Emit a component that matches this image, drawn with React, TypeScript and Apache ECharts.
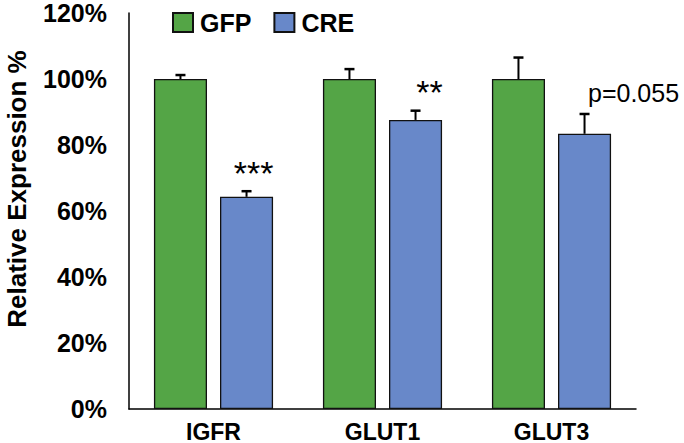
import React, { useEffect, useRef } from "react";
import * as echarts from "echarts";

const categories = ["IGFR", "GLUT1", "GLUT3"];
const gfpValues = [100, 100, 100];
const gfpErrors = [1.2, 3, 6.5];
const creValues = [64.3, 87.6, 83.4];
const creErrors = [1.7, 2.8, 6];
const annoTexts = ["***", "**", "p=0.055"];
const annoValues = [74.2, 98.8, 95.8];
const yTicks = { min: 0, max: 120, interval: 20 };
const yTitle = "Relative Expression %";

const GREEN = "#54A546";
const BLUE = "#6888C9";
const FONT = "'Liberation Sans', Arial, sans-serif";

const BAR_W = 0.314;
const GAP = 0.245;

export default function App() {
  const ref = useRef<HTMLDivElement>(null);
  useEffect(() => {
    document.body.style.margin = "0";
    if (!ref.current) return;
    const chart = echarts.init(ref.current, null, { renderer: "svg" });
    const half = (BAR_W * (1 + GAP)) / 2;
    const annoShift = [7, 14, 49];

    const errRender = (sign: number) => (params: any, api: any) => {
      const i = api.value(0);
      const v = api.value(1);
      const e = api.value(2);
      const base = api.coord([i, v]);
      const top = api.coord([i, v + e]);
      const bw = api.size([1, 0])[0];
      const x = base[0] + sign * half * bw;
      const st = { stroke: "#000", lineWidth: 2 };
      return {
        type: "group",
        children: [
          { type: "line", shape: { x1: x, y1: base[1], x2: x, y2: top[1] }, style: st },
          { type: "line", shape: { x1: x - 5, y1: top[1], x2: x + 5, y2: top[1] }, style: { stroke: "#000", lineWidth: 2.5 } },
        ],
      };
    };

    chart.setOption({
      animation: false,
      grid: { left: 129, right: 48, top: 13, bottom: 34, containLabel: false, outerBoundsMode: "none" },
      legend: {
        left: 172,
        top: 10,
        padding: 0,
        itemWidth: 20,
        itemHeight: 19,
        itemGap: 22,
        icon: "rect",
        data: ["GFP", "CRE"],
        textStyle: { fontFamily: FONT, fontWeight: "bold", fontSize: 25, color: "#000", padding: [0, 0, 0, 2] },
      },
      graphic: [
        {
          type: "text",
          x: 17,
          y: 189,
          rotation: Math.PI / 2,
          style: {
            text: yTitle,
            font: `bold 26px ${FONT}`,
            fill: "#000",
            textAlign: "center",
            textVerticalAlign: "middle",
          },
        },
      ],
      xAxis: {
        type: "category",
        data: categories,
        axisLine: { lineStyle: { color: "#000", width: 1.5 } },
        axisTick: { show: false },
        axisLabel: { fontFamily: FONT, fontWeight: "bold", fontSize: 23, color: "#000", margin: 11 },
      },
      yAxis: {
        type: "value",
        min: yTicks.min,
        max: yTicks.max,
        interval: yTicks.interval,
        axisLine: { show: true, lineStyle: { color: "#000", width: 1.5 } },
        axisTick: { show: false },
        splitLine: { show: false },
        axisLabel: { fontFamily: FONT, fontWeight: "bold", fontSize: 25, color: "#000", margin: 22, formatter: "{value}%" },
      },
      series: [
        {
          name: "GFP",
          type: "bar",
          data: gfpValues,
          barWidth: BAR_W * 100 + "%",
          barGap: GAP * 100 + "%",
          itemStyle: { color: GREEN, borderColor: "#111", borderWidth: 1.3 },
        },
        {
          name: "CRE",
          type: "bar",
          data: creValues,
          barWidth: BAR_W * 100 + "%",
          barGap: GAP * 100 + "%",
          itemStyle: { color: BLUE, borderColor: "#111", borderWidth: 1.3 },
        },
        {
          type: "custom",
          renderItem: errRender(-1),
          data: gfpValues.map((v, i) => [i, v, gfpErrors[i]]),
          encode: { x: 0, y: 1 },
          z: 5,
        },
        {
          type: "custom",
          renderItem: errRender(1),
          data: creValues.map((v, i) => [i, v, creErrors[i]]),
          encode: { x: 0, y: 1 },
          z: 5,
        },
        {
          type: "custom",
          data: annoValues.map((v, i) => [i, v]),
          encode: { x: 0, y: 1 },
          z: 6,
          renderItem: (params: any, api: any) => {
            const i = api.value(0);
            const p = api.coord([i, api.value(1)]);
            const bw = api.size([1, 0])[0];
            const idx = params.dataIndex;
            const isP = annoTexts[idx].startsWith("p");
            return {
              type: "text",
              style: {
                text: annoTexts[idx],
                x: p[0] + half * bw + annoShift[idx],
                y: p[1] + (isP ? 0 : 9),
                fill: "#000",
                font: `${isP ? 25 : 34}px ${FONT}`,
                textAlign: "center",
                textVerticalAlign: "middle",
              },
            };
          },
        },
      ],
    });
    return () => chart.dispose();
  }, []);
  return <div ref={ref} style={{ width: 684, height: 443 }} />;
}
